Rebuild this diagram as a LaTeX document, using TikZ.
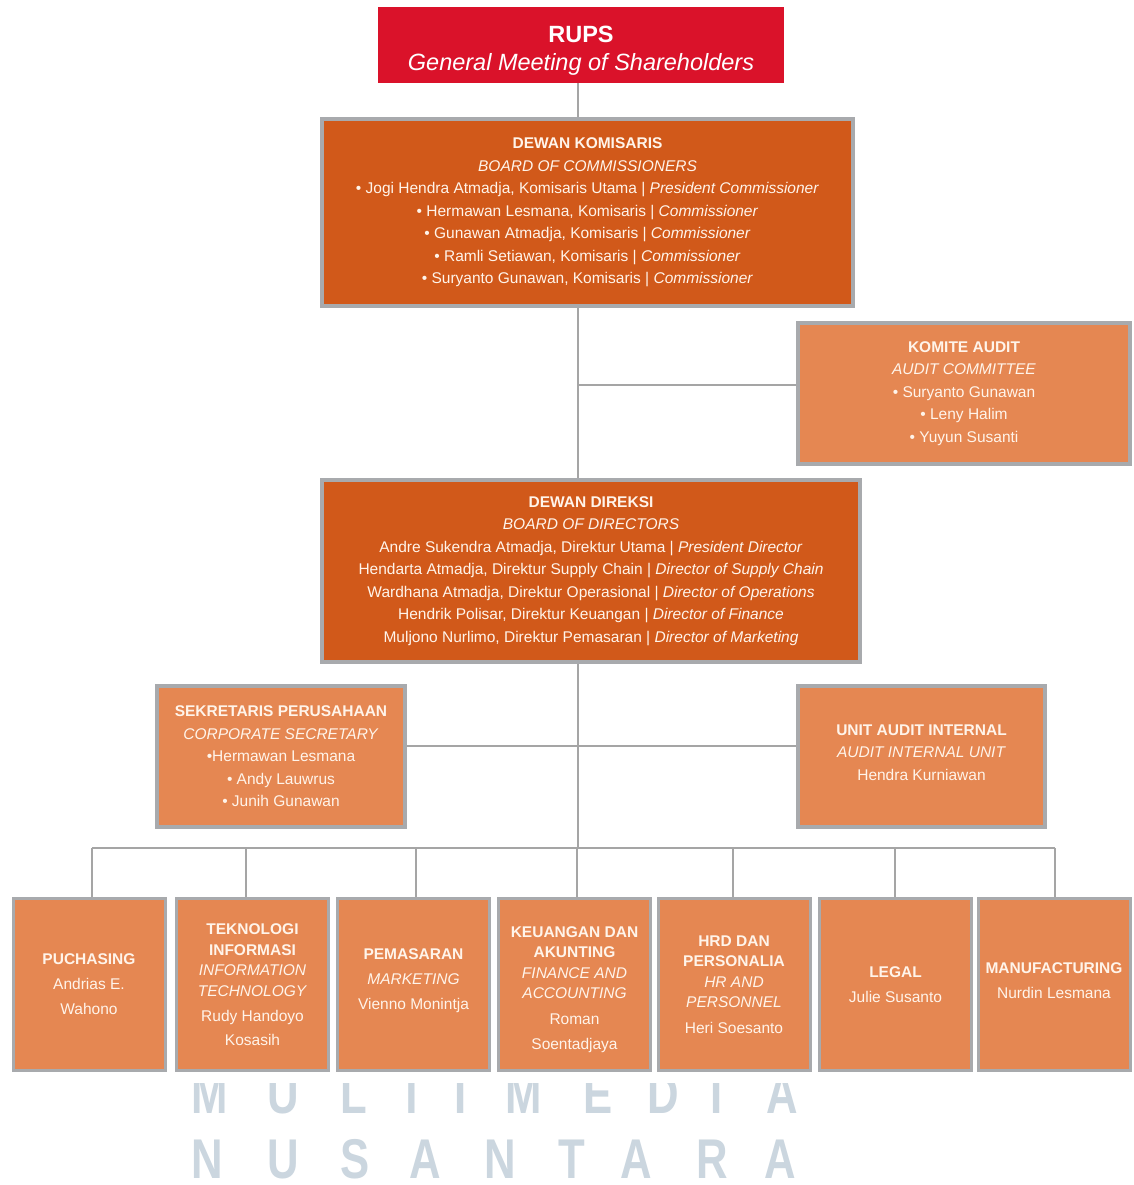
\documentclass[tikz,border=0pt]{standalone}
\usepackage{fontspec}
\setmainfont{Liberation Sans}
\definecolor{rupsred}{RGB}{218,18,42}
\definecolor{darkor}{RGB}{209,89,26}
\definecolor{lightor}{RGB}{229,135,82}
\definecolor{bordergray}{RGB}{168,170,173}
\definecolor{linegray}{RGB}{165,165,165}
\definecolor{txt}{RGB}{255,244,234}
\definecolor{wm}{RGB}{203,214,223}
\tikzset{
  box/.style={draw=bordergray, line width=4pt, rectangle, inner sep=0pt, align=center, text=txt,
    font=\fontsize{15.5}{22.5}\selectfont},
  darkbox/.style={box, fill=darkor},
  lightbox/.style={box, fill=lightor},
  unitbox/.style={box, fill=lightor, line width=3pt, minimum width=152pt, minimum height=172pt,
    font=\fontsize{15.5}{20.5}\selectfont},
  rupsbox/.style={rectangle, fill=rupsred, inner sep=0pt, align=center, text=white,
    minimum width=406pt, minimum height=76pt, font=\fontsize{23.5}{28}\selectfont},
  conn/.style={draw=linegray, line width=2pt},
  wmletter/.style={text=wm, inner sep=0pt, anchor=base, xscale=0.78, font=\fontsize{56}{56}\selectfont\bfseries},
}
\begin{document}
\begin{tikzpicture}[x=1pt, y=-1pt]
\useasboundingbox (0,0) rectangle (1133,1185);
\fill[white] (0,0) rectangle (1133,1185);

% watermark
\begin{scope}
\clip (0,1083) rectangle (1133,1185);
\foreach \l/\x [count=\i] in {M/210,U/283,L/354,T/412,I/461,M/524,E/598,D/663,I/717,A/782}
  \node[wmletter] (wa\i) at (\x,1113) {\l};
\end{scope}
\foreach \l/\x [count=\i] in {N/207,U/283,S/355,A/425,N/500,T/572,A/636,R/712,A/780}
  \node[wmletter] (wb\i) at (\x,1178) {\l};

% spine coordinates
\coordinate (sp) at (578,0);
\coordinate (ac) at (578,385);
\coordinate (sl) at (578,746);
\coordinate (bus) at (578,848);
\coordinate (busl) at (92,848);
\coordinate (busr) at (1055,848);

% nodes
\node[rupsbox] (rups) at (581,45) {\rule{0pt}{27pt}\textbf{RUPS}\\\textit{General Meeting of Shareholders}};

\node[darkbox, minimum width=531pt, minimum height=187pt] (boc) at (587.5,212.5)
 {\textbf{DEWAN KOMISARIS}\\
  \textit{BOARD OF COMMISSIONERS}\\
  • Jogi Hendra Atmadja, Komisaris Utama | \textit{President Commissioner}\\
  • Hermawan Lesmana, Komisaris | \textit{Commissioner}\\
  • Gunawan Atmadja, Komisaris | \textit{Commissioner}\\
  • Ramli Setiawan, Komisaris | \textit{Commissioner}\\
  • Suryanto Gunawan, Komisaris | \textit{Commissioner}};

\node[lightbox, minimum width=332pt, minimum height=141pt] (aud) at (964,393.5)
 {\textbf{KOMITE AUDIT}\\
  \textit{AUDIT COMMITTEE}\\
  • Suryanto Gunawan\\
  • Leny Halim\\
  • Yuyun Susanti};

\node[darkbox, minimum width=538pt, minimum height=182pt] (bod) at (591,571)
 {\textbf{DEWAN DIREKSI}\\
  \textit{BOARD OF DIRECTORS}\\
  Andre Sukendra Atmadja, Direktur Utama | \textit{President Director}\\
  Hendarta Atmadja, Direktur Supply Chain | \textit{Director of Supply Chain}\\
  Wardhana Atmadja, Direktur Operasional | \textit{Director of Operations}\\
  Hendrik Polisar, Direktur Keuangan | \textit{Director of Finance}\\
  Muljono Nurlimo, Direktur Pemasaran | \textit{Director of Marketing}};

\node[lightbox, minimum width=248pt, minimum height=141pt] (sek) at (281,756.5)
 {\textbf{SEKRETARIS PERUSAHAAN}\\
  \textit{CORPORATE SECRETARY}\\
  •Hermawan Lesmana\\
  • Andy Lauwrus\\
  • Junih Gunawan};

\node[lightbox, minimum width=247pt, minimum height=141pt] (uai) at (921.5,756.5)
 {\textbf{UNIT AUDIT INTERNAL}\\
  \textit{AUDIT INTERNAL UNIT}\\
  Hendra Kurniawan\rule[-8pt]{0pt}{0pt}};

\node[unitbox] (u1) at (89,984.5) {\textbf{PUCHASING}\\[4.5pt]Andrias E.\\[4.5pt]Wahono};
\node[unitbox] (u2) at (252.5,984.5) {\textbf{TEKNOLOGI}\\\textbf{INFORMASI}\\\textit{INFORMATION}\\\textit{TECHNOLOGY}\\[4.5pt]Rudy Handoyo\\[3.5pt]Kosasih};
\node[unitbox] (u3) at (413.5,984.5) {\textbf{PEMASARAN}\\[4.5pt]\textit{MARKETING}\\[4.5pt]Vienno Monintja\rule[-10pt]{0pt}{0pt}};
\node[unitbox] (u4) at (574.5,984.5) {\rule{0pt}{21pt}\textbf{KEUANGAN DAN}\\\textbf{AKUNTING}\\\textit{FINANCE AND}\\\textit{ACCOUNTING}\\[5pt]Roman\\[5pt]Soentadjaya};
\node[unitbox] (u5) at (734,984.5) {\textbf{HRD DAN}\\\textbf{PERSONALIA}\\\textit{HR AND}\\\textit{PERSONNEL}\\[5pt]Heri Soesanto};
\node[unitbox] (u6) at (895.5,984.5) {\textbf{LEGAL}\\[4.5pt]Julie Susanto};
\node[unitbox] (u7) at (1054,984.5) {\textbf{MANUFACTURING}\\[4.5pt]Nurdin Lesmana\rule[-7pt]{0pt}{0pt}};

% connectors
\draw[conn] (rups.south -| sp) -- (boc.north -| sp);
\draw[conn] (boc.south -| sp) -- (bod.north -| sp);
\draw[conn] (ac) -- (ac -| aud.west);
\draw[conn] (bod.south -| sp) -- (bus);
\draw[conn] (sl -| sek.east) -- (sl -| uai.west);
\draw[conn] (busl) -- (busr);
\foreach \n/\x in {u1/92,u2/246,u3/416,u4/577,u5/733,u6/895,u7/1055}
  \draw[conn] (\x,848) -- (\x,848 |- \n.north);
\end{tikzpicture}
\end{document}
